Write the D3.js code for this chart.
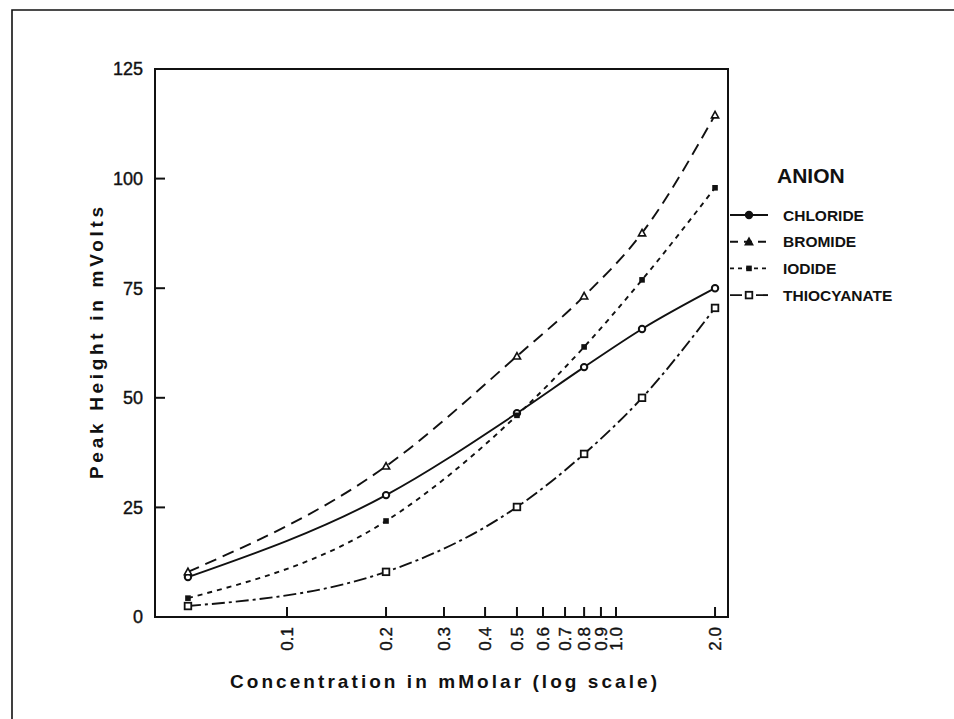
<!DOCTYPE html>
<html>
<head>
<meta charset="utf-8">
<script src="https://cdn.jsdelivr.net/npm/d3@7"></script>
<style>
  body { margin: 0; background: #fff; }
  svg { display: block; }
  text { font-family: 'Liberation Sans', Arial, sans-serif; fill: #111; }
</style>
</head>
<body>
<svg id="chart"></svg>
<script>
// values
const concentrations = [0.05, 0.2, 0.5, 0.8, 1.2, 2.0];
const chloride    = [9.1, 27.8, 46.5, 57.0, 65.7, 75.0];
const bromide     = [10.3, 34.4, 59.5, 73.2, 87.6, 114.5];
const iodide      = [4.3, 21.9, 46.0, 61.6, 76.9, 97.9];
const thiocyanate = [2.5, 10.3, 25.1, 37.2, 50.0, 70.5];
const anionNames  = ['CHLORIDE', 'BROMIDE', 'IODIDE', 'THIOCYANATE'];
const xTicks = [0.1, 0.2, 0.3, 0.4, 0.5, 0.6, 0.7, 0.8, 0.9, 1.0, 2.0];
const yTicks = [0, 25, 50, 75, 100, 125];

const W = 954, H = 719;
const M = { top: 69, right: 226, bottom: 102, left: 155 };

const STYLE = {
  CHLORIDE:    { dash: null,       legendDash: null,       marker: 'circle' },
  BROMIDE:     { dash: '12,7',     legendDash: '8,6',      marker: 'triangle' },
  IODIDE:      { dash: '5,5',      legendDash: '4,4',      marker: 'fsquare' },
  THIOCYANATE: { dash: '13,4,3,4', legendDash: '12,6,4,4', marker: 'square' },
};

const series = anionNames.map((name, i) => ({
  name,
  values: [chloride, bromide, iodide, thiocyanate][i].map((v, j) => ({ x: concentrations[j], y: v })),
}));

const svg = d3.select('#chart').attr('width', W).attr('height', H);

// scan frame (top + left edge)
svg.append('path')
  .attr('d', `M12,${H} L12,10 L${W},10`)
  .attr('fill', 'none').attr('stroke', '#111').attr('stroke-width', 1.6);

const x = d3.scaleLog().domain([0.0397, 2.19]).range([M.left, W - M.right]);
const y = d3.scaleLinear().domain([0, 125]).range([H - M.bottom, M.top]);

// plot box
svg.append('rect')
  .attr('x', x.range()[0]).attr('y', y(125))
  .attr('width', x.range()[1] - x.range()[0])
  .attr('height', y(0) - y(125))
  .attr('fill', 'none').attr('stroke', '#111').attr('stroke-width', 2);

// y ticks (inside) + labels
const yAxis = svg.append('g');
yAxis.selectAll('line')
  .data(yTicks.filter(d => d > 0 && d < 125))
  .join('line')
  .attr('x1', x.range()[0]).attr('x2', x.range()[0] + 10)
  .attr('y1', d => y(d)).attr('y2', d => y(d))
  .attr('stroke', '#111').attr('stroke-width', 2);
yAxis.selectAll('text')
  .data(yTicks)
  .join('text')
  .attr('x', x.range()[0] - 12).attr('y', d => y(d))
  .attr('dy', '0.36em').attr('text-anchor', 'end')
  .attr('font-size', 18).attr('stroke', '#111').attr('stroke-width', 0.4)
  .text(d => d);

// x ticks (inside, pointing up) + rotated labels
const xAxis = svg.append('g');
xAxis.selectAll('line')
  .data(xTicks)
  .join('line')
  .attr('x1', d => x(d)).attr('x2', d => x(d))
  .attr('y1', y(0)).attr('y2', y(0) - 10)
  .attr('stroke', '#111').attr('stroke-width', 2);
xAxis.selectAll('text')
  .data(xTicks)
  .join('text')
  .attr('transform', d => `translate(${x(d)},${y(0) + 10}) rotate(-90)`)
  .attr('text-anchor', 'end').attr('dy', '0.36em')
  .attr('font-size', 17).attr('stroke', '#111').attr('stroke-width', 0.4)
  .text(d => d.toFixed(1));

// axis titles
svg.append('text')
  .attr('x', 230).attr('y', 688)
  .attr('textLength', 427).attr('lengthAdjust', 'spacing')
  .attr('font-size', 19).attr('font-weight', 'bold')
  .text('Concentration in mMolar (log scale)');

svg.append('text')
  .attr('transform', `translate(103,${343}) rotate(-90)`)
  .attr('text-anchor', 'middle')
  .attr('textLength', 272).attr('lengthAdjust', 'spacing')
  .attr('font-size', 19).attr('font-weight', 'bold')
  .text('Peak Height in mVolts');

// markers
function drawMarker(g, kind, cx, cy, legend) {
  if (kind === 'circle') {
    g.append('circle').attr('cx', cx).attr('cy', cy).attr('r', 3.2)
      .attr('fill', legend ? '#111' : '#fff').attr('stroke', '#111').attr('stroke-width', 2);
  } else if (kind === 'triangle') {
    const s = 3.6;
    g.append('path')
      .attr('d', `M${cx},${cy - s} L${cx + s},${cy + s * 0.8} L${cx - s},${cy + s * 0.8} Z`)
      .attr('fill', legend ? '#111' : '#fff').attr('stroke', '#111').attr('stroke-width', 1.6);
  } else if (kind === 'fsquare') {
    g.append('rect').attr('x', cx - 2.8).attr('y', cy - 2.8).attr('width', 5.6).attr('height', 5.6)
      .attr('fill', '#111');
  } else {
    g.append('rect').attr('x', cx - 3.3).attr('y', cy - 3.3).attr('width', 6.6).attr('height', 6.6)
      .attr('fill', '#fff').attr('stroke', '#111').attr('stroke-width', 1.8);
  }
}

const line = d3.line()
  .x(d => x(d.x)).y(d => y(d.y))
  .curve(d3.curveMonotoneX);

const plot = svg.append('g');
series.forEach(s => {
  const st = STYLE[s.name];
  plot.append('path')
    .datum(s.values)
    .attr('d', line)
    .attr('fill', 'none').attr('stroke', '#111').attr('stroke-width', 1.9)
    .attr('stroke-dasharray', st.dash);
  const mg = plot.append('g');
  s.values.forEach(d => drawMarker(mg, st.marker, x(d.x), y(d.y), false));
});

// legend
const lg = svg.append('g');
lg.append('text')
  .attr('x', 777).attr('y', 183)
  .attr('font-size', 21).attr('font-weight', 'bold')
  .text('ANION');

anionNames.forEach((name, i) => {
  const cy = 215 + i * 26.7;
  const st = STYLE[name];
  lg.append('line')
    .attr('x1', 730).attr('x2', 768).attr('y1', cy).attr('y2', cy)
    .attr('stroke', '#111').attr('stroke-width', 1.9)
    .attr('stroke-dasharray', st.legendDash);
  drawMarker(lg, st.marker, 749, cy, true);
  lg.append('text')
    .attr('x', 783).attr('y', cy).attr('dy', '0.36em')
    .attr('font-size', 15.5).attr('font-weight', 'bold')
    .text(name);
});
</script>
</body>
</html>
